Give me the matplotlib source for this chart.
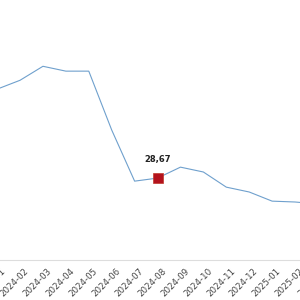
import matplotlib
matplotlib.use("Agg")
from matplotlib import pyplot as plt
from matplotlib.transforms import ScaledTranslation

# monthly values
months = ["2024-01", "2024-02", "2024-03", "2024-04", "2024-05", "2024-06",
          "2024-07", "2024-08", "2024-09", "2024-10", "2024-11", "2024-12",
          "2025-01", "2025-02", "2025-03"]
values = [59.8, 62.9, 67.8, 66.1, 66.1, 45.5, 27.6, 28.67, 32.5, 30.8,
          25.5, 23.8, 20.6, 20.3, 19.6]
highlight = 7  # 2024-08
highlight_label = "28,67"

fig = plt.figure(figsize=(3, 3), dpi=100)
# axes run past the figure edges: the picture is a crop of a wider chart
ax = fig.add_axes([-0.1, 40 / 300, 1.2, 260 / 300])

x = list(range(len(months)))
ax.plot(x, values, color="#6FA0CD", linewidth=0.8, zorder=2)
ax.plot(x[highlight], values[highlight], marker="s", markersize=6.5,
        color="#B3121D", markeredgecolor="#C0392B", markeredgewidth=0.5,
        linestyle="none", zorder=3)
ax.annotate(highlight_label, (x[highlight], values[highlight]),
            xytext=(0, 10), textcoords="offset points", ha="center",
            va="bottom", fontsize=6, fontweight="bold", color="#222222")

# pixel -30 .. 330 across, month 0 sits at about pixel -3, 22.9 px a month
ax.set_xlim((-30 + 2.9) / 22.92, (330 + 2.9) / 22.92)
ax.set_ylim(0, 91)

ax.set_xticks(x)
ax.set_xticklabels(months, rotation=45, ha="right", rotation_mode="anchor",
                   fontsize=6.2, color="#444444")
ax.tick_params(axis="x", length=0, pad=5)
shift = ScaledTranslation(3 / 72, 0, fig.dpi_scale_trans)
for lab in ax.get_xticklabels():
    lab.set_transform(lab.get_transform() + shift)
ax.set_yticks([])

for side in ["top", "left", "right"]:
    ax.spines[side].set_visible(False)
ax.spines["bottom"].set_color("#DDDDDD")
ax.spines["bottom"].set_linewidth(0.8)

fig.savefig("out.png", dpi=100)
